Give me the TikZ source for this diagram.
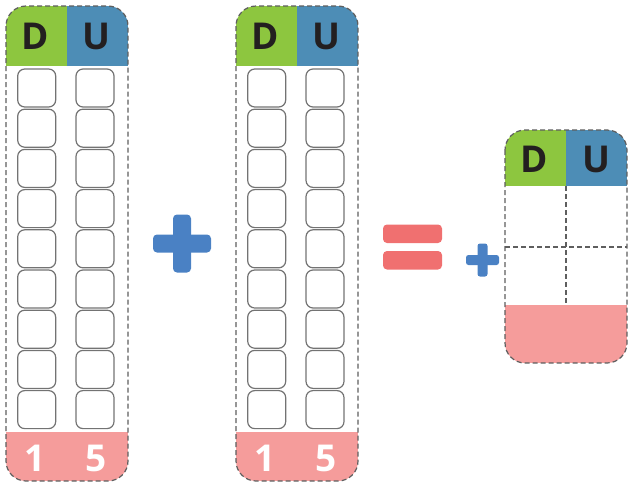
\documentclass[tikz,border=0pt]{standalone}
\usepackage{fontspec}
\setmainfont{Open Sans}
\definecolor{dgreen}{HTML}{8DC63F}
\definecolor{ublue}{HTML}{4D8DB6}
\definecolor{pinkf}{HTML}{F59C9B}
\definecolor{plusblue}{HTML}{4A81C4}
\definecolor{eqred}{HTML}{F07070}
\definecolor{txt}{HTML}{231F20}
\definecolor{borderc}{HTML}{5E5E5E}
\definecolor{cellc}{HTML}{737373}
\begin{document}
\begin{tikzpicture}[x=1pt,y=-1pt,
  frame/.style={draw=borderc, dash pattern=on 5pt off 3pt, line width=1.2pt, rounded corners=20pt},
  gridline/.style={draw=borderc, dash pattern=on 5pt off 3pt, line width=1.1pt},
  cell/.style={draw=cellc, line width=1.2pt, rounded corners=7pt, minimum size=38pt, inner sep=0pt},
  letter/.style={font=\bfseries\fontsize{37}{37}\selectfont, text=txt, inner sep=0pt},
  digit/.style={font=\bfseries\fontsize{37}{37}\selectfont, text=white, inner sep=0pt},
  signbar/.style={rounded corners=4pt}]
\useasboundingbox (0,0) rectangle (629,485);
% two columns
\foreach \ox/\n in {0/a,230/b}{
  \begin{scope}[xshift=\ox pt]
    \begin{scope}
      \clip[rounded corners=20pt] (6,6) rectangle (128,481);
      \fill[dgreen] (6,6) rectangle (67,66);
      \fill[ublue] (67,6) rectangle (128,66);
      \fill[pinkf] (6,432) rectangle (128,481);
    \end{scope}
    \draw[frame] (6,6) rectangle (128,481);
    \node[letter] (\n-D) at (35,36) {D};
    \node[letter] (\n-U) at (96.5,36) {U};
    \node[digit] (\n-1) at (35,458) {1};
    \node[digit] (\n-5) at (96.5,458) {5};
    \foreach \i in {0,...,8}{
      \node[cell] (\n-l\i) at (36.7,{88+40.2*\i}) {};
      \node[cell] (\n-r\i) at (95,{88+40.2*\i}) {};
    }
  \end{scope}
}
% big plus
\fill[plusblue, signbar] (153,234.5) rectangle (211,252.5);
\fill[plusblue, signbar] (173,214.5) rectangle (191,272.5);
% equals
\fill[eqred, signbar] (383,224.5) rectangle (442,243);
\fill[eqred, signbar] (383,251) rectangle (442,269.5);
% small plus
\fill[plusblue, rounded corners=2.5pt] (466,255) rectangle (499,265);
\fill[plusblue, rounded corners=2.5pt] (477.5,243.5) rectangle (487.5,276.5);
% result box
\begin{scope}
  \clip[rounded corners=20pt] (505,130) rectangle (627,363);
  \fill[dgreen] (505,130) rectangle (566,186);
  \fill[ublue] (566,130) rectangle (627,186);
  \fill[pinkf] (505,305) rectangle (627,363);
\end{scope}
\coordinate (rtop) at (566,186);
\coordinate (rbot) at (566,305);
\coordinate (rleft) at (505,247);
\coordinate (rright) at (627,247);
\draw[gridline] (rtop) -- (rbot);
\draw[gridline] (rleft) -- (rright);
\draw[frame] (505,130) rectangle (627,363);
\node[letter] (c-D) at (534,159) {D};
\node[letter] (c-U) at (596,159) {U};
\end{tikzpicture}
\end{document}
